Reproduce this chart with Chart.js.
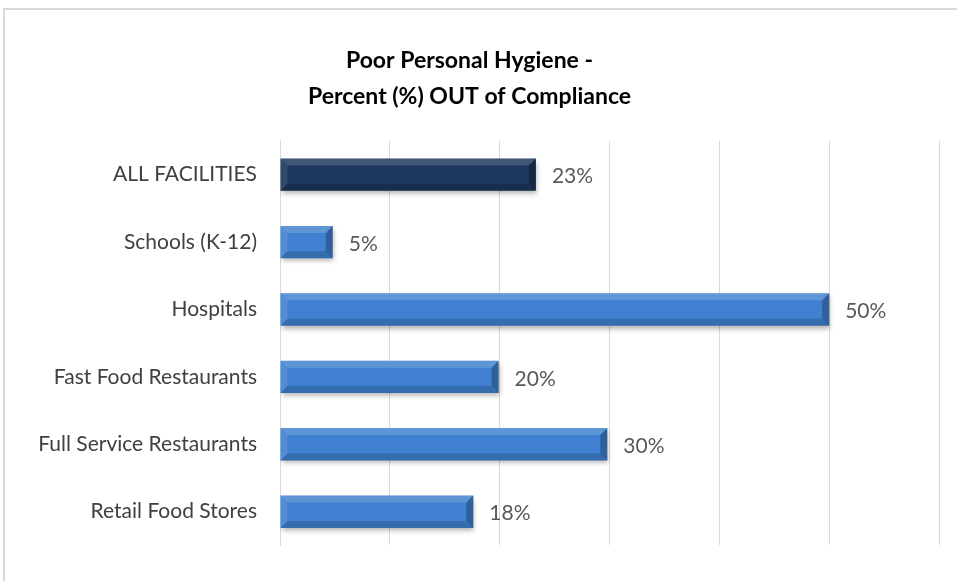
<!DOCTYPE html>
<html>
<head>
<meta charset="utf-8">
<script src="https://cdn.jsdelivr.net/npm/chart.js@4"></script>
<style>
  html, body { margin: 0; padding: 0; background: #fff; overflow: hidden; }
  canvas { display: block; }
</style>
</head>
<body>
<canvas id="chart" width="957" height="581"></canvas>
<script>
/* ---- Data ---- */
const categories = [
  "ALL FACILITIES",
  "Schools (K-12)",
  "Hospitals",
  "Fast Food Restaurants",
  "Full Service Restaurants",
  "Retail Food Stores",
];
const percentOut = [23.3, 4.8, 50, 19.9, 29.8, 17.6];
const xTicks = [0, 10, 20, 30, 40, 50, 60];
const titleLines = ["Poor Personal Hygiene -", "Percent (%) OUT of Compliance"];

const FONT = 'Lato, "Open Sans", sans-serif';

/* ---- Bar look: vertical gradient, darker for the overall row ---- */
const NAVY = ["#2E4B70", "#1C375B", "#17304F", "#0E1F38"];
const BLUE = ["#7AB0EC", "#3F81D0", "#3771BC", "#25538B"];

function barGradient(ctx) {
  const el = ctx.element;
  const stops = ctx.dataIndex === 0 ? NAVY : BLUE;
  if (!el || !Number.isFinite(el.y) || !Number.isFinite(el.height)) return stops[1];
  const h = el.height;
  const g = ctx.chart.ctx.createLinearGradient(0, el.y - h / 2, 0, el.y + h / 2);
  g.addColorStop(0, stops[0]);
  g.addColorStop(0.2, stops[1]);
  g.addColorStop(0.7, stops[2]);
  g.addColorStop(1, stops[3]);
  return g;
}

/* outer chart frame (left + top edge visible in the crop) */
const framePlugin = {
  id: "frame",
  beforeDraw(chart) {
    const c = chart.ctx;
    c.save();
    c.strokeStyle = "#D9D9D9";
    c.lineWidth = 2;
    c.beginPath();
    c.moveTo(4, chart.height);
    c.lineTo(4, 9);
    c.lineTo(chart.width, 9);
    c.stroke();
    c.restore();
  },
};

/* drop shadow under the bars */
const shadowPlugin = {
  id: "barShadow",
  beforeDatasetDraw(chart) {
    const c = chart.ctx;
    c.save();
    c.shadowColor = "rgba(0,0,0,0.3)";
    c.shadowBlur = 5;
    c.shadowOffsetX = 1;
    c.shadowOffsetY = 3;
  },
  afterDatasetDraw(chart) {
    chart.ctx.restore();
  },
};

/* soft bevel edges + value labels */
const bevelPlugin = {
  id: "bevel",
  afterDatasetsDraw(chart) {
    const c = chart.ctx;
    const meta = chart.getDatasetMeta(0);
    meta.data.forEach((el, i) => {
      const p = el.getProps(["x", "y", "base", "height"], true);
      const top = p.y - p.height / 2, bot = p.y + p.height / 2;
      const l = p.base, r = p.x, b = Math.min(7, (r - l) / 3);
      c.save();
      // top highlight
      c.fillStyle = "rgba(255,255,255,0.16)";
      c.beginPath();
      c.moveTo(l, top); c.lineTo(r, top); c.lineTo(r - b, top + b); c.lineTo(l + b, top + b);
      c.closePath(); c.fill();
      // bottom shade
      c.fillStyle = "rgba(0,0,0,0.16)";
      c.beginPath();
      c.moveTo(l, bot); c.lineTo(r, bot); c.lineTo(r - b, bot - b); c.lineTo(l + b, bot - b);
      c.closePath(); c.fill();
      // left light
      c.fillStyle = "rgba(255,255,255,0.1)";
      c.beginPath();
      c.moveTo(l, top); c.lineTo(l + b, top + b); c.lineTo(l + b, bot - b); c.lineTo(l, bot);
      c.closePath(); c.fill();
      // right dark
      c.fillStyle = "rgba(0,0,0,0.25)";
      c.beginPath();
      c.moveTo(r, top); c.lineTo(r - b, top + b); c.lineTo(r - b, bot - b); c.lineTo(r, bot);
      c.closePath(); c.fill();
      // value label
      c.fillStyle = "#595959";
      c.font = "21px " + FONT;
      c.textAlign = "left";
      c.textBaseline = "middle";
      c.fillText(Math.round(percentOut[i]) + "%", r + 16, p.y + 2);
      c.restore();
    });
  },
};

new Chart(document.getElementById("chart"), {
  type: "bar",
  data: {
    labels: categories,
    datasets: [
      {
        data: percentOut,
        backgroundColor: barGradient,
        borderWidth: 0,
        barPercentage: 0.48,
        categoryPercentage: 1,
      },
    ],
  },
  options: {
    indexAxis: "y",
    responsive: false,
    animation: false,
    layout: { padding: { left: 0, right: 18, top: 0, bottom: 25 } },
    plugins: {
      legend: { display: false },
      tooltip: { enabled: false },
      title: {
        display: true,
        text: titleLines,
        color: "#000",
        font: { family: FONT, size: 23, weight: "bold", lineHeight: 1.565 },
        padding: { top: 43, bottom: 26 },
      },
    },
    scales: {
      x: {
        min: xTicks[0],
        max: xTicks[xTicks.length - 1],
        afterBuildTicks: (s) => { s.ticks = xTicks.map((v) => ({ value: v })); },
        ticks: { display: false },
        grid: { color: "#D9D9D9", lineWidth: 1, drawTicks: false },
        border: { display: false },
        afterFit: (s) => { s.height = 0; },
      },
      y: {
        ticks: {
          color: "#404040",
          font: { family: FONT, size: 21 },
          padding: 23,
        },
        grid: { display: false, drawTicks: false },
        border: { display: true, color: "#D9D9D9", width: 1 },
        afterFit: (s) => { s.width = 280; },
      },
    },
  },
  plugins: [framePlugin, shadowPlugin, bevelPlugin],
});
</script>
</body>
</html>
